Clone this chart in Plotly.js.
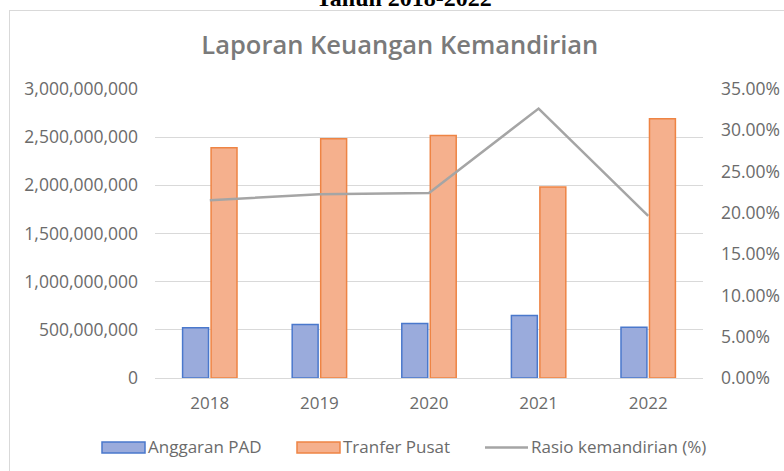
<!DOCTYPE html>
<html>
<head>
<meta charset="utf-8">
<script src="https://cdn.plot.ly/plotly-3.0.1.min.js"></script>
<style>
html,body{margin:0;padding:0;background:#fff;}
#wrap{position:relative;width:784px;height:471px;overflow:hidden;}
#chart{position:absolute;left:0;top:0;width:784px;height:471px;}
#frame{position:absolute;left:9px;top:10px;width:800px;height:480px;border:1px solid #d9d9d9;pointer-events:none;}
</style>
</head>
<body>
<div id="wrap"><div id="frame"></div><div id="chart"></div></div>
<script>
const years = ['2018','2019','2020','2021','2022'];
const anggaranPAD = [521000000, 555000000, 566000000, 649000000, 528000000];
const tranferPusat = [2390000000, 2483000000, 2518000000, 1983000000, 2690000000];
const rasio = [0.2153, 0.2225, 0.2241, 0.3263, 0.1964];
const seriesNames = ['Anggaran PAD', 'Tranfer Pusat', 'Rasio kemandirian (%)'];
const leftTicks = [0, 500000000, 1000000000, 1500000000, 2000000000, 2500000000, 3000000000];
const leftTickText = ['0','500,000,000','1,000,000,000','1,500,000,000','2,000,000,000','2,500,000,000','3,000,000,000'];
const rightTicks = [0, 0.05, 0.10, 0.15, 0.20, 0.25, 0.30, 0.35];
const rightTickText = ['0.00%','5.00%','10.00%','15.00%','20.00%','25.00%','30.00%','35.00%'];

const font = '"Open Sans", Lato, sans-serif';
const tickColor = '#6b6b6b';
const blueFill = '#9aabdc', blueLine = '#4a78cc';
const orangeFill = '#f5b08d', orangeLine = '#ee8444';
const grayLine = '#a5a5a5';

const traces = [
  {type:'bar', name:seriesNames[0], x:years, y:anggaranPAD, showlegend:false,
   marker:{color:blueFill, line:{color:blueLine, width:1.5}}},
  {type:'bar', name:seriesNames[1], x:years, y:tranferPusat, showlegend:false,
   marker:{color:orangeFill, line:{color:orangeLine, width:1.5}}},
  {type:'scatter', mode:'lines', name:seriesNames[2], x:years, y:rasio, yaxis:'y2', showlegend:false,
   line:{color:grayLine, width:2.5}}
];

// custom legend (wide swatches like the reference)
const W = 548, H = 289, L = 155, B = 378;
const px = v => (v - L) / W;
const py = v => (B - v) / H;
const legendItems = [
  {x0:102, x1:145, kind:'rect', fill:blueFill, line:blueLine, name:seriesNames[0]},
  {x0:297, x1:340, kind:'rect', fill:orangeFill, line:orangeLine, name:seriesNames[1]},
  {x0:485, x1:528, kind:'line', line:grayLine, name:seriesNames[2]}
];
const shapes = [];
const annotations = [];
legendItems.forEach(it => {
  if (it.kind === 'rect') {
    shapes.push({type:'rect', xref:'paper', yref:'paper', x0:px(it.x0), x1:px(it.x1), y0:py(453), y1:py(442),
                 fillcolor:it.fill, line:{color:it.line, width:1.5}});
  } else {
    shapes.push({type:'line', xref:'paper', yref:'paper', x0:px(it.x0), x1:px(it.x1), y0:py(447.5), y1:py(447.5),
                 line:{color:it.line, width:2.5}});
  }
  annotations.push({text:it.name, xref:'paper', yref:'paper', x:px(it.x1 + 1), y:py(447), xanchor:'left', yanchor:'middle',
                    showarrow:false, font:{family:font, size:17, color:tickColor}});
});
annotations.push({text:'<b>Tahun 2018-2022</b>', xref:'paper', yref:'paper', x:px(404), y:py(-2), xanchor:'center', yanchor:'middle',
     showarrow:false, font:{family:'"Liberation Serif", "DejaVu Serif", serif', size:24, color:'#000000'}});

const layout = {
  width:784, height:471,
  paper_bgcolor:'rgba(0,0,0,0)', plot_bgcolor:'rgba(0,0,0,0)',
  margin:{l:L, r:784 - L - W, t:89, b:471 - B},
  font:{family:font, color:tickColor, size:17},
  title:{text:'Laporan Keuangan Kemandirian', x:0.51, xanchor:'center', y:0.905, yanchor:'middle',
         font:{family:font, size:25.5, weight:600, color:'#7a7a7a'}},
  barmode:'group', bargap:0.48, bargroupgap:0.09,
  showlegend:false,
  xaxis:{type:'category', showgrid:false, zeroline:false, showline:true, linecolor:'#d9d9d9',
         ticks:'', ticklabelstandoff:10, tickfont:{family:font, size:17, color:tickColor}},
  yaxis:{range:[0,3000000000], tickvals:leftTicks, ticktext:leftTickText, showgrid:true,
         gridcolor:'#d9d9d9', gridwidth:1, zeroline:false, ticks:'', ticklabelstandoff:16,
         tickfont:{family:font, size:17.5, color:tickColor}},
  yaxis2:{range:[0,0.35], overlaying:'y', side:'right', tickvals:rightTicks, ticktext:rightTickText,
          showgrid:false, zeroline:false, ticks:'', ticklabelstandoff:17,
          tickfont:{family:font, size:17.5, color:tickColor}},
  shapes:shapes,
  annotations:annotations
};

Plotly.newPlot('chart', traces, layout, {displayModeBar:false, staticPlot:true});
</script>
</body>
</html>
